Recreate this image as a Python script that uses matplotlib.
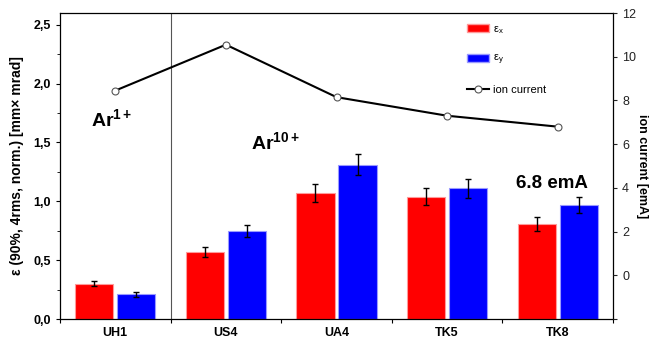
import numpy as np
import matplotlib
matplotlib.use("Agg")
import matplotlib.pyplot as plt
from matplotlib.ticker import FixedLocator, MultipleLocator, FuncFormatter
from matplotlib.patches import Patch
from matplotlib.lines import Line2D

plt.rcParams['font.family'] = ['Liberation Sans', 'DejaVu Sans']
plt.rcParams['mathtext.fontset'] = 'custom'
plt.rcParams['mathtext.rm'] = 'Liberation Sans'
plt.rcParams['mathtext.it'] = 'Liberation Sans'
plt.rcParams['mathtext.bf'] = 'Liberation Sans:bold'

# emittance per source / ion current
sources = ['UH1', 'US4', 'UA4', 'TK5', 'TK8']
eps_x = [0.30, 0.57, 1.07, 1.04, 0.81]
eps_x_err = [0.02, 0.04, 0.08, 0.075, 0.06]
eps_y = [0.21, 0.75, 1.31, 1.11, 0.97]
eps_y_err = [0.02, 0.05, 0.09, 0.08, 0.07]
ion_current = [8.45, 10.55, 8.15, 7.3, 6.8]

x = np.arange(len(sources))
w = 0.345

fig = plt.figure(figsize=(6.51, 3.41), dpi=100)
rect = [60/651, 1 - 319/341, 553/651, 306/341]
ax = fig.add_axes(rect)

ax.bar(x - 0.19, eps_x, w, color='#ff0000', edgecolor='#ff9a9a', linewidth=0.8, zorder=2)
ax.bar(x + 0.19, eps_y, w, color='#0000ff', edgecolor='#9a9aff', linewidth=0.8, zorder=2)
ax.errorbar(x - 0.19, eps_x, yerr=eps_x_err, fmt='none', ecolor='black',
            elinewidth=1, capsize=2.5, capthick=1, zorder=3)
ax.errorbar(x + 0.19, eps_y, yerr=eps_y_err, fmt='none', ecolor='black',
            elinewidth=1, capsize=2.5, capthick=1, zorder=3)

ax.axvline(0.5, color='#555555', lw=0.8, zorder=1)

ax.set_xlim(-0.5, 4.5)
ax.set_ylim(0, 2.6)
ax.xaxis.set_major_locator(FixedLocator(np.arange(-0.5, 5, 1)))
ax.xaxis.set_major_formatter(FuncFormatter(lambda v, p: ''))
ax.xaxis.set_minor_locator(FixedLocator(x))
ax.set_xticklabels(sources, minor=True, fontweight='bold', fontsize=9)
ax.tick_params(axis='x', which='minor', length=0, pad=6)
ax.tick_params(axis='x', which='major', length=3)

ax.yaxis.set_major_locator(MultipleLocator(0.5))
ax.yaxis.set_minor_locator(MultipleLocator(0.25))
ax.yaxis.set_major_formatter(FuncFormatter(lambda v, p: f'{v:.1f}'.replace('.', ',')))
for lab in ax.get_yticklabels():
    lab.set_fontweight('bold')
ax.tick_params(axis='y', labelsize=9, length=3)
ax.tick_params(axis='y', which='minor', length=2)
ax.set_ylabel('ε (90%, 4rms, norm.) [mm× mrad]', fontsize=10, fontweight='bold', labelpad=7)
ax.tick_params(right=False, which='both')
for s in ax.spines.values():
    s.set_linewidth(0.9)

ax.text(-0.22, 1.64, r'$\mathbf{Ar^{1+}}$', fontsize=14)
ax.text(1.23, 1.44, r'$\mathbf{Ar^{10+}}$', fontsize=14)
ax.text(3.62, 1.11, f'{ion_current[-1]} emA', fontsize=13.5, fontweight='bold')

# ion current on its own right-hand axis
ax2 = fig.add_axes(rect, sharex=ax, frameon=False)
ax2.plot(x, ion_current, color='black', lw=1.5, marker='o', ms=5,
         mfc='white', mec='#555555', mew=0.8, zorder=4)
ax2.set_ylim(-2, 12)
ax2.yaxis.tick_right()
ax2.yaxis.set_label_position('right')
ax2.set_yticks(np.arange(-2, 13, 2))
ax2.set_yticklabels([''] + [str(v) for v in range(0, 13, 2)])
ax2.tick_params(axis='y', labelsize=9, length=3, colors='#222222')
ax2.tick_params(axis='x', which='both', bottom=False, labelbottom=False)
ax2.set_ylabel('ion current [emA]', rotation=270, fontsize=9,
               fontweight='bold', labelpad=4, va='center')

handles = [Patch(facecolor='#ff0000', edgecolor='#ff9a9a'),
           Patch(facecolor='#0000ff', edgecolor='#9a9aff'),
           Line2D([], [], color='black', lw=1.5, marker='o', ms=5,
                  mfc='white', mec='#555555', mew=0.8)]
leg = ax2.legend(handles, [r'$\mathrm{ε_x}$', r'$\mathrm{ε_y}$', 'ion current'],
                 loc='upper left', bbox_to_anchor=(467/651, 1 - 24/341),
                 bbox_transform=fig.transFigure, frameon=False, fontsize=8,
                 labelspacing=1.55, handlelength=2.0, handletextpad=0.3,
                 borderpad=0, borderaxespad=0)

fig.savefig('out.png', dpi=100)
